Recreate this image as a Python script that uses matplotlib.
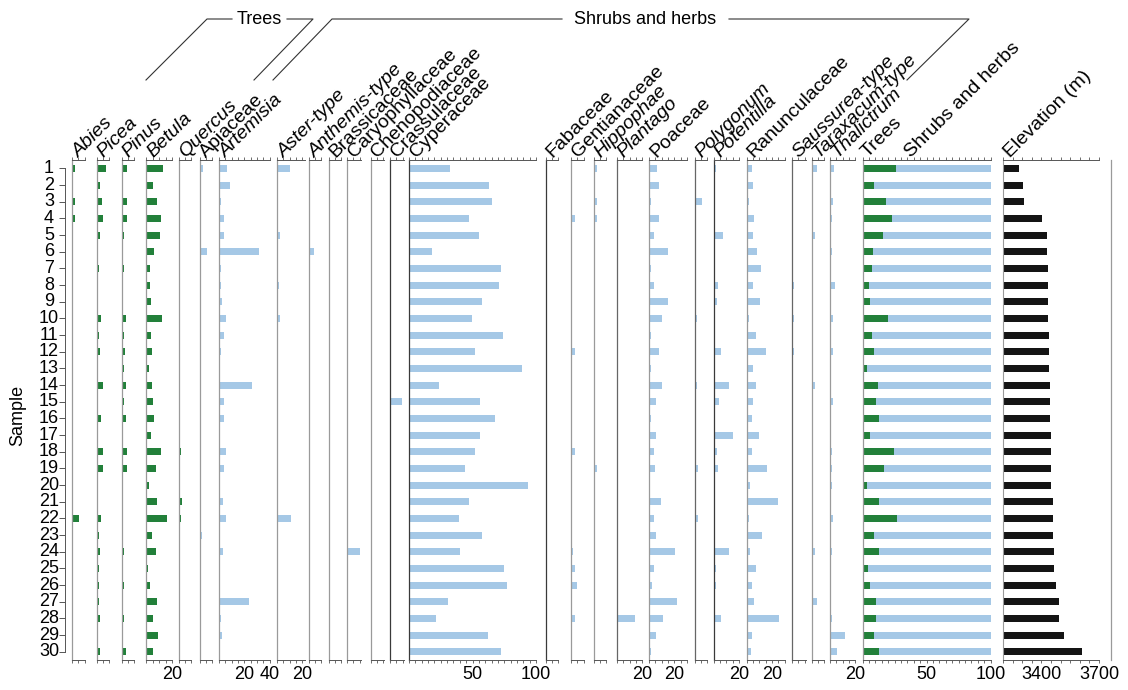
import matplotlib
matplotlib.use("Agg")
import matplotlib.pyplot as plt
import numpy as np
from matplotlib.lines import Line2D
from matplotlib.transforms import blended_transform_factory

plt.rcParams['font.family'] = ['Liberation Sans', 'DejaVu Sans']

# ---------------------------------------------------------------- data
samples = list(range(1, 31))

abies = [2.1, 0.5, 2.6, 2.6, 0.3, 0.3, 0.8, 0.8, 0.3, 0.8, 0.8, 0.8, 0.3, 0.8, 0.8,
         0.3, 0.8, 1.0, 0.8, 0.3, 0.8, 5.8, 0.8, 0.8, 0.8, 0.3, 0.3, 0.8, 0.3, 1.0]
picea = [7.1, 2.4, 4.2, 5.0, 2.9, 0.8, 1.8, 0.8, 0.8, 3.7, 1.8, 2.4, 0.5, 5.0, 1.3,
         3.7, 0.8, 5.3, 4.8, 0.5, 0.5, 3.7, 1.6, 2.9, 1.8, 1.8, 1.6, 2.4, 0.5, 2.9]
pinus = [4.0, 1.3, 4.5, 4.0, 1.6, 1.3, 1.6, 1.3, 1.3, 3.2, 1.6, 2.6, 1.6, 3.4, 1.6,
         3.2, 0.5, 4.0, 4.0, 1.0, 1.3, 0.8, 1.0, 1.8, 1.0, 1.8, 0.8, 1.6, 0.8, 3.2]
betula = [13.0, 5.3, 7.9, 11.6, 10.3, 5.8, 2.9, 2.9, 3.4, 12.2, 3.4, 4.2, 1.6, 4.0, 5.3,
          5.8, 3.4, 11.1, 7.1, 1.6, 8.5, 16.1, 4.2, 7.1, 0.8, 2.9, 7.9, 5.3, 8.7, 4.8]
quercus = [0.8, 0.8, 0.8, 1.3, 0.8, 0.8, 0.8, 0.8, 0.8, 0.8, 0.8, 0.8, 0.5, 0.8, 1.3,
           1.3, 0.8, 1.6, 0.8, 0.3, 2.6, 2.1, 0.8, 0.8, 0.8, 0.8, 0.8, 0.8, 0.8, 0.8]
apiaceae = [2.6, 0.8, 0.5, 0.5, 0.5, 5.8, 1.0, 0.5, 0.5, 0.5, 0.5, 0.5, 0.5, 1.3, 0.5,
            0.5, 0.5, 0.5, 0.5, 0.5, 0.5, 0.5, 1.8, 0.5, 0.5, 0.5, 0.5, 0.5, 0.5, 0.5]
artemisia = [6.1, 8.7, 1.3, 3.7, 3.7, 31.5, 1.6, 1.6, 2.1, 5.6, 4.2, 1.6, 0.5, 26.2, 4.2,
             3.7, 0.8, 5.3, 3.7, 0.3, 2.9, 5.6, 0.3, 2.9, 0.8, 0.8, 23.3, 1.6, 2.1, 0.8]
aster = [10.6, 1.0, 0.3, 1.0, 2.1, 1.0, 0.3, 1.6, 1.0, 2.6, 0.3, 0.3, 0.3, 0.3, 0.3,
         1.0, 1.0, 0.3, 1.0, 0.3, 0.3, 11.4, 0.3, 0.3, 1.0, 1.0, 0.3, 0.3, 1.0, 0.3]
anthemis = [0, 1.0, 0, 0, 0, 4.2, 0, 0, 0, 0, 0, 0, 0, 0, 0,
            0, 0, 0, 0, 0, 0, 0.5, 0, 0, 0, 0, 0, 0, 0, 0]
brassicaceae = [0] * 30
caryophyllaceae = [0, 0, 0, 0, 0, 0, 0, 0, 0, 0, 0, 0, 0, 0.5, 0,
                   0, 0, 0, 0, 0, 0, 0, 0, 10.0, 0, 0, 0, 0, 0, 0]
chenopodiaceae = [0, 0, 0, 0, 0.8, 0.3, 0, 0, 0.3, 0, 0, 0, 0, 0, 0,
                  0.8, 0.3, 0, 0, 0, 0, 0, 0, 0, 0, 0, 0, 0, 0, 0]
crassulaceae = [0, 0, 0, 0, 0.8, 0.3, 0, 0, 0, 0, 0, 0, 0, 0, 9.8,
                0, 0, 0, 0, 0, 0, 0, 0, 0, 0, 0, 0, 0, 0, 0]
cyperaceae = [32.5, 62.7, 65.0, 47.6, 55.3, 18.5, 72.8, 70.9, 57.7, 49.5, 73.8, 51.9, 89.2, 23.5, 55.8,
              67.7, 55.8, 51.9, 43.9, 93.4, 47.4, 39.2, 57.7, 39.9, 75.1, 77.2, 30.7, 21.2, 62.2, 72.8]
fabaceae = [0, 0, 0, 0, 0, 0.3, 0, 0.3, 0, 0, 0, 0, 0, 0, 0,
            0, 0, 0, 0, 0, 0, 0, 0, 0, 0, 0, 0, 0, 0, 0]
gentianaceae = [0.3, 0.3, 0.3, 2.9, 0.3, 0.3, 0.3, 0.3, 0.3, 0.3, 0.5, 2.9, 0.3, 0.5, 0.3,
                0.3, 0.5, 2.9, 0.8, 0.3, 0.3, 0.5, 0.5, 1.3, 2.9, 4.8, 0.3, 2.9, 0.3, 0.3]
hippophae = [2.9, 0.8, 2.4, 2.4, 0.8, 0.5, 0.5, 0.5, 0.5, 0.5, 0.5, 0.5, 0.5, 0.5, 0.5,
             0.5, 0.5, 0.5, 2.9, 0.5, 0.5, 0.5, 0.5, 0.5, 0.5, 0.5, 0.5, 0.5, 0.5, 0.5]
plantago = [0, 0, 0, 0, 0, 0, 0, 0, 0, 0, 0, 0, 0, 0, 0,
            0, 1.0, 0, 0, 0, 0, 0, 0, 0, 0, 0, 0, 14.0, 0, 0]
poaceae = [6.6, 7.9, 1.9, 7.7, 4.0, 15.3, 1.9, 4.0, 14.8, 10.0, 1.9, 7.7, 1.9, 10.0, 5.8,
           1.6, 5.3, 4.0, 4.8, 0.8, 9.8, 4.0, 5.8, 20.6, 4.0, 2.6, 22.2, 11.4, 5.3, 1.6]
polygonum = [0.3, 0.3, 5.8, 0.3, 0.3, 0.3, 0.3, 0.3, 0.3, 1.9, 0.3, 0.3, 0.3, 1.9, 0.3,
             0.3, 0.3, 0.3, 2.5, 0.3, 0.3, 2.5, 0.3, 1.5, 0.3, 0.3, 0.3, 0.3, 0.3, 0.3]
potentilla = [1.6, 0, 0, 0, 7.4, 0, 1.0, 3.4, 2.6, 0, 0, 5.6, 0, 12.2, 4.0,
              0, 15.1, 2.9, 3.4, 0, 0, 0, 0, 11.9, 2.1, 2.1, 0, 6.1, 0, 0]
ranunculaceae = [4.2, 4.8, 2.1, 6.1, 4.8, 7.9, 11.6, 4.8, 10.6, 2.1, 7.1, 15.1, 4.8, 7.1, 4.8,
                 4.2, 9.8, 4.2, 16.1, 2.9, 24.9, 1.9, 11.9, 2.9, 7.4, 4.2, 6.1, 25.7, 4.2, 3.4]
saussurea = [0, 0, 0, 0, 0, 0, 0, 1.3, 0, 1.3, 0, 1.3, 0, 0, 0,
             0, 0, 0, 0, 0, 0, 0, 0, 1.0, 0, 0, 0, 1.0, 0, 0]
taraxacum = [4.0, 0.3, 0.3, 0.3, 2.6, 1.3, 0.3, 1.3, 1.3, 1.3, 0.3, 0.3, 0.3, 2.6, 0.3,
             0.3, 0.3, 0.3, 0.3, 0.3, 0.3, 0.3, 0.3, 2.6, 0.3, 0.3, 4.0, 0.3, 0.3, 0.3]
thalictrum = [3.4, 0.8, 2.6, 1.9, 0.5, 1.9, 0.5, 4.0, 0.5, 2.6, 0.8, 2.4, 0.5, 0.5, 2.6,
              0.5, 1.0, 1.9, 1.9, 1.9, 0.5, 2.6, 0.5, 1.9, 0.5, 0.5, 0.5, 1.9, 11.6, 5.3]
trees = [26.0, 8.6, 18.5, 22.9, 15.9, 8.0, 7.5, 5.0, 6.0, 19.8, 7.3, 9.1, 3.6, 12.2, 10.4,
         13.0, 6.0, 24.5, 16.7, 3.6, 13.0, 26.6, 8.6, 12.5, 4.2, 6.0, 10.4, 10.2, 9.1, 12.5]
elevation = [3285, 3306, 3311, 3401, 3431, 3431, 3436, 3436, 3436, 3436, 3440, 3440, 3440, 3443, 3443,
             3445, 3448, 3452, 3452, 3452, 3459, 3459, 3459, 3464, 3467, 3476, 3492, 3493, 3518, 3611]

# ---------------------------------------------------------------- style
GREEN = '#22803a'
BLUE = '#a5c8e6'
BLACK = '#141414'
GRAY = '#9a9a9a'
DARK = '#3a3a3a'
FS = 13        # numbers
FS_NAME = 14   # taxon names

W, H = 1128, 690
TOP, BOT = 160, 660
PX = 1.27  # pixels per percent
NAME_DX, NAME_Y = 7, 158

fig = plt.figure(figsize=(W / 100, H / 100), dpi=100)


def fx(x):
    return x / W


def fy(y):
    return 1 - y / H


def style_axis(ax, xmax, step, labels, spine_color):
    ax.set_ylim(30.5, 0.5)
    ax.spines['right'].set_visible(False)
    ax.spines['left'].set_color(spine_color)
    ax.spines['left'].set_linewidth(0.9)
    for s in ('top', 'bottom'):
        ax.spines[s].set_color('#555555')
        ax.spines[s].set_linewidth(0.7)
    ticks = np.arange(0, xmax + 1e-6, step)
    ax.set_xticks(ticks)
    ax.set_xticklabels([labels.get(t, '') for t in ticks], fontsize=FS)
    ax.tick_params(axis='x', which='both', top=True, bottom=True, direction='out',
                   length=2.5, width=0.6, color='#555555', pad=2)
    ax.set_yticks([])
    ax.patch.set_alpha(0)


def name_label(x, text, italic=False):
    fig.text(fx(x + NAME_DX), fy(NAME_Y), text, rotation=45, rotation_mode='anchor',
             ha='left', va='baseline', fontsize=FS_NAME,
             style='italic' if italic else 'normal')


def panel(name, values, left, xmax, color=BLUE, italic=False, labels=None,
          spine_color=GRAY):
    width = xmax * PX
    ax = fig.add_axes([fx(left), fy(BOT), fx(width), (BOT - TOP) / H])
    ax.barh(samples, values, height=0.42, color=color, linewidth=0)
    ax.set_xlim(0, xmax)
    style_axis(ax, xmax, 5, labels or {}, spine_color)
    name_label(left, name, italic)
    return ax


panel('Abies', abies, 72, 10, GREEN, True)
panel('Picea', picea, 96.5, 10, GREEN, True)
panel('Pinus', pinus, 121.5, 10, GREEN, True)
panel('Betula', betula, 146.5, 20, GREEN, True, {20: '20'})
panel('Quercus', quercus, 178.5, 10, GREEN, True)
panel('Apiaceae', apiaceae, 199.5, 10)
panel('Artemisia', artemisia, 219, 40, italic=True, labels={20: '20', 40: '40'})
panel('Aster-type', aster, 277, 22, italic=True, labels={20: '20'})
panel('Anthemis-type', anthemis, 308.5, 10, italic=True)
panel('Brassicaceae', brassicaceae, 328.5, 10)
panel('Caryophyllaceae', caryophyllaceae, 347, 11)
panel('Chenopodiaceae', chenopodiaceae, 370.5, 11)
panel('Crassulaceae', crassulaceae, 390, 11, spine_color=DARK)
panel('Cyperaceae', cyperaceae, 409, 100, labels={50: '50', 100: '100'}, spine_color=DARK)
panel('Fabaceae', fabaceae, 545.5, 10, spine_color=DARK)
panel('Gentianaceae', gentianaceae, 571, 10)
panel('Hippophae', hippophae, 593.5, 10, italic=True)
panel('Plantago', plantago, 617, 20, italic=True, labels={20: '20'}, spine_color='#666666')
panel('Poaceae', poaceae, 649, 30, labels={20: '20'})
panel('Polygonum', polygonum, 694.5, 10, italic=True, spine_color='#666666')
panel('Potentilla', potentilla, 713.5, 20, italic=True, labels={20: '20'}, spine_color=DARK)
panel('Ranunculaceae', ranunculaceae, 746.5, 30, labels={20: '20'})
panel('Saussurea-type', saussurea, 792, 11, italic=True, spine_color='#666666')
panel('Taraxacum-type', taraxacum, 811.5, 10, italic=True)
panel('Thalictrum', thalictrum, 830, 20, italic=True, labels={20: '20'})

# Trees vs shrubs and herbs summary
shrubs = [100 - t for t in trees]
ax_sum = fig.add_axes([fx(862.5), fy(BOT), fx(100 * 1.28), (BOT - TOP) / H])
ax_sum.barh(samples, trees, height=0.42, color=GREEN, linewidth=0)
ax_sum.barh(samples, shrubs, left=trees, height=0.42, color=BLUE, linewidth=0)
ax_sum.set_xlim(0, 100)
style_axis(ax_sum, 100, 5, {50: '50', 100: '100'}, GRAY)
name_label(861, 'Trees')
name_label(904, 'Shrubs and herbs')

# Elevation
ax_el = fig.add_axes([fx(1003), fy(BOT), fx(96), (BOT - TOP) / H])
ax_el.barh(samples, [e - 3200 for e in elevation], left=3200, height=0.42,
           color=BLACK, linewidth=0)
ax_el.set_xlim(3200, 3700)
ax_el.set_ylim(30.5, 0.5)
ax_el.spines['right'].set_visible(False)
ax_el.spines['left'].set_color(GRAY)
for s in ('top', 'bottom'):
    ax_el.spines[s].set_color('#555555')
    ax_el.spines[s].set_linewidth(0.7)
el_ticks = np.arange(3200, 3701, 50)
ax_el.set_xticks(el_ticks)
ax_el.set_xticklabels(['3400' if t == 3400 else '3700' if t == 3700 else '' for t in el_ticks],
                      fontsize=FS)
ax_el.tick_params(axis='x', top=True, bottom=True, direction='out', length=2.5,
                  width=0.6, color='#555555', pad=2)
ax_el.set_yticks([])
ax_el.patch.set_alpha(0)
name_label(1003, 'Elevation (m)')

# right frame line
fig.add_artist(Line2D([fx(1111), fx(1111)], [fy(TOP), fy(BOT)], color=GRAY, lw=0.9))

# Sample axis
ax_y = fig.add_axes([fx(65), fy(BOT), fx(2), (BOT - TOP) / H])
ax_y.set_ylim(30.5, 0.5)
ax_y.set_xlim(0, 1)
for s in ('right', 'top', 'bottom'):
    ax_y.spines[s].set_visible(False)
ax_y.spines['left'].set_bounds(1, 30)
ax_y.spines['left'].set_color('#555555')
ax_y.spines['left'].set_linewidth(0.7)
ax_y.set_xticks([])
ax_y.set_yticks(samples)
ax_y.set_yticklabels([])
ax_y.tick_params(axis='y', direction='out', length=4, width=0.7, color='#555555')
ax_y.patch.set_alpha(0)
tr = blended_transform_factory(fig.transFigure, ax_y.transData)
for s in samples:
    fig.text(fx(49), s, str(s), transform=tr, ha='center', va='center', fontsize=FS)
fig.text(fx(18), fy(415), 'Sample', rotation=90, ha='center', va='center', fontsize=FS)


# group brackets
def bracket(points):
    xs = [fx(p[0]) for p in points]
    ys = [fy(p[1]) for p in points]
    fig.add_artist(Line2D(xs, ys, color='#333333', lw=0.8))


bracket([(146, 80), (207, 19), (232, 19)])
bracket([(287, 19), (313, 19), (254, 80)])
fig.text(fx(259), fy(19), 'Trees', ha='center', va='center', fontsize=FS)
bracket([(273, 80), (332, 19), (562, 19)])
bracket([(729, 19), (969, 19), (907, 80)])
fig.text(fx(645), fy(19), 'Shrubs and herbs', ha='center', va='center', fontsize=FS)

fig.savefig('out.png', dpi=100)
